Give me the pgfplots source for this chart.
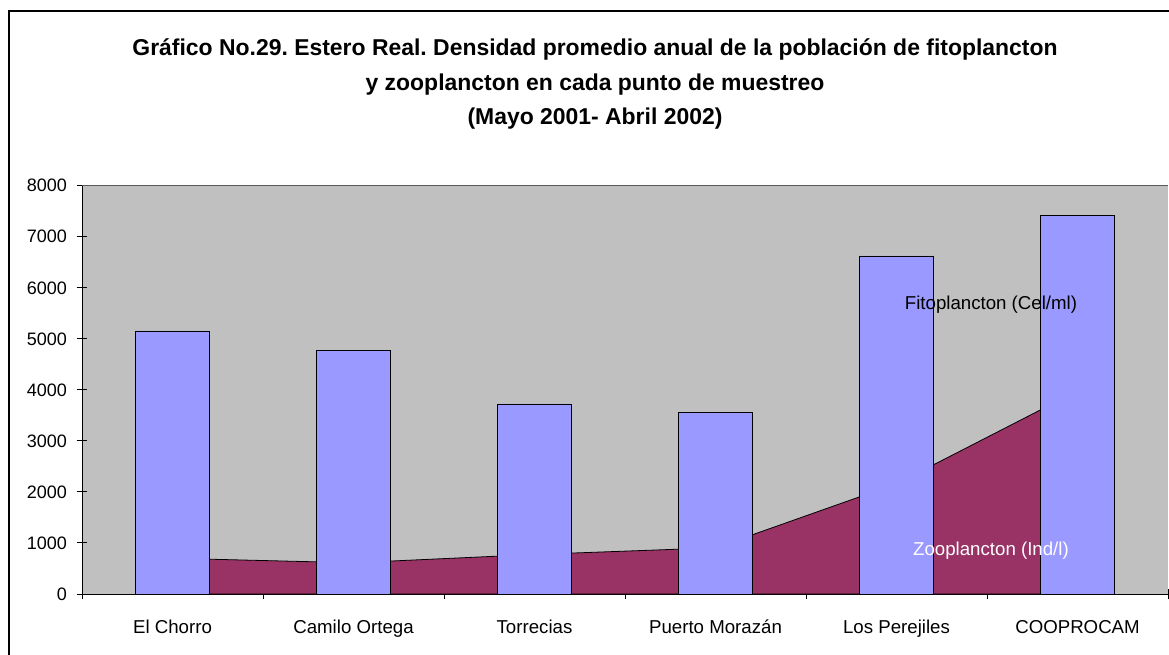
\documentclass[border=0pt]{standalone}
\usepackage{fontspec}
\setmainfont{Liberation Sans}
\usepackage{pgfplots}
\pgfplotsset{compat=1.18}
\definecolor{plotgray}{HTML}{C0C0C0}
\definecolor{barblue}{HTML}{9999FF}
\definecolor{zoored}{HTML}{993366}
\frenchspacing
\begin{document}
\frenchspacing
\begin{tikzpicture}
\useasboundingbox (0,0) rectangle (876.75pt,490.5pt);
\fill[white] (0,0) rectangle (876.75pt,490.5pt);
\draw[line width=1.5pt] (6.75pt,-5pt) -- (6.75pt,482.5pt) -- (890pt,482.5pt);
\node[anchor=base,font=\fontsize{17.2}{20}\selectfont\bfseries\frenchspacing] at (446.25pt,448.5pt) {Gráfico No.29. Estero Real. Densidad promedio anual de la población de fitoplancton};
\node[anchor=base,font=\fontsize{17.2}{20}\selectfont\bfseries] at (446.25pt,422.6pt) {y zooplancton en cada punto de muestreo};
\node[anchor=base,font=\fontsize{17.2}{20}\selectfont\bfseries] at (446.25pt,396.75pt) {(Mayo 2001- Abril 2002)};
\begin{axis}[
  at={(61.5pt,45pt)}, anchor=south west,
  scale only axis, width=814.5pt, height=306.2pt,
  xmin=0, xmax=6, ymin=0, ymax=8000,
  axis x line=bottom, axis y line=left,
  axis line style={-, line width=0.75pt},
  axis background/.style={fill=plotgray},
  ytick={0,1000,...,8000},
  xtick={0.5,1.5,...,5.5},
  xticklabels={El Chorro,Camilo Ortega,Torrecias,Puerto Morazán,Los Perejiles,COOPROCAM},
  minor xtick={0,1,...,6},
  major tick length=8pt, minor tick length=8pt,
  tick align=center,
  x tick style={draw=none},
  minor x tick style={draw=black, line width=0.75pt},
  y tick style={draw=black, line width=0.75pt},
  yticklabel style={font=\fontsize{13.5}{15}\selectfont, /pgf/number format/assume math mode=true, xshift=-3.75pt},
  xticklabel style={font=\fontsize{14}{16}\selectfont, anchor=base, yshift=-25.25pt},
  /pgf/number format/1000 sep={},
  scaled y ticks=false,
  clip=false,
]
\addplot[fill=zoored, draw=black, line width=0.6pt] coordinates {
 (0.5,700) (1.5,612) (2.5,775) (3.5,905) (4.5,2160) (5.5,3980)
} \closedcycle;
\addplot[ybar, bar width=0.407, fill=barblue, draw=black, line width=0.6pt] coordinates {
 (0.5,5155) (1.5,4770) (2.5,3725) (3.5,3565) (4.5,6625) (5.5,7425)
};
\draw[color=gray!70!black, line width=0.6pt] (rel axis cs:0,1) -- (rel axis cs:1,1);
\node[anchor=base, font=\fontsize{14}{16}\selectfont, text=black] at (axis cs:5.022,5584) {Fitoplancton (Cel/ml)};
\node[anchor=base, font=\fontsize{14}{16}\selectfont, text=white] at (axis cs:5.022,764) {Zooplancton (Ind/l)};
\end{axis}
\end{tikzpicture}
\end{document}
